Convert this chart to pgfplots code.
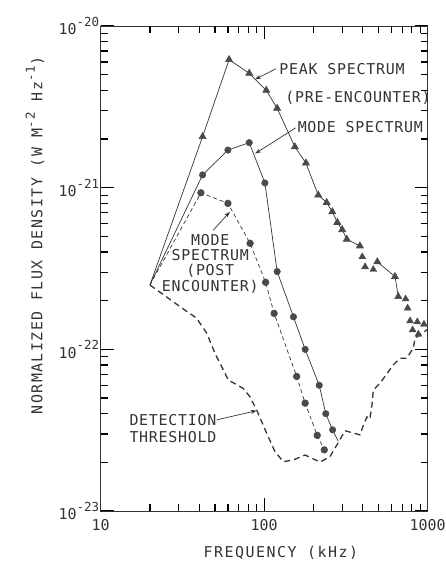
\documentclass[border=0pt]{standalone}
\usepackage{pgfplots}
\pgfplotsset{compat=1.18}
\usepackage{fontspec}
\setmainfont[LetterSpace=5]{DejaVu Sans Mono}
\usetikzlibrary{arrows.meta}

\definecolor{ink}{HTML}{333333}
\definecolor{markfill}{HTML}{4A4A4A}

\newcommand{\lbl}{\fontsize{15}{15}\selectfont}
\newcommand{\pw}[1]{10\raisebox{0.55em}{\fontsize{12.5}{12.5}\selectfont#1}}
\newcommand{\expo}[1]{\raisebox{0.5em}{\fontsize{12.5}{12.5}\selectfont#1}}

\begin{document}
\begin{tikzpicture}[font=\lbl]
\begin{axis}[
  scale only axis, width=327bp, height=485bp,
  xmode=log, ymode=log,
  xmin=10, xmax=1000, ymin=1e-23, ymax=1e-20,
  xtick={10,100,1000}, xticklabels={10,100,1000},
  minor xtick={20,30,40,50,60,70,80,90,200,300,400,500,600,700,800,900},
  ytick={1e-23,1e-22,1e-21,1e-20},
  yticklabels={\pw{-23},\pw{-22},\pw{-21},\pw{-20}},
  minor ytick={2e-23,3e-23,4e-23,5e-23,6e-23,7e-23,8e-23,9e-23,
               2e-22,3e-22,4e-22,5e-22,6e-22,7e-22,8e-22,9e-22,
               2e-21,3e-21,4e-21,5e-21,6e-21,7e-21,8e-21,9e-21},
  xtick pos=both, ytick pos=both,
  tick align=inside,
  major tick length=13bp, minor tick length=7bp,
  axis line style={ink, line width=0.9pt},
  major tick style={draw=black, line width=1.2pt},
  minor tick style={draw=black, line width=1.2pt},
  tick label style={ink, font=\lbl\addfontfeature{LetterSpace=0}},
  yticklabel style={anchor=east, xshift=2bp},
  xticklabel style={yshift=-5bp},
  clip=false,
]

% tick marks along the frame
\tikzset{tk/.style={black, line width=1.2pt}}
\pgfplotsinvokeforeach{20,30,40,50,60,70,80,90,200,300,400,500,600,700,800,900}{
  \draw[tk] (axis cs:#1,1e-23) -- ++(0pt,7bp);
  \draw[tk] (axis cs:#1,1e-20) -- ++(0pt,-7bp);
}
\draw[tk] (axis cs:100,1e-23) -- ++(0pt,13bp);
\draw[tk] (axis cs:100,1e-20) -- ++(0pt,-13bp);
\pgfplotsinvokeforeach{2e-23,3e-23,4e-23,5e-23,6e-23,7e-23,8e-23,9e-23,
  2e-22,3e-22,4e-22,5e-22,6e-22,7e-22,8e-22,9e-22,
  2e-21,3e-21,4e-21,5e-21,6e-21,7e-21,8e-21,9e-21}{
  \draw[tk] (axis cs:10,#1) -- ++(7bp,0pt);
  \draw[tk] (axis cs:1000,#1) -- ++(-7bp,0pt);
}
\pgfplotsinvokeforeach{1e-22,1e-21}{
  \draw[tk] (axis cs:10,#1) -- ++(13bp,0pt);
  \draw[tk] (axis cs:1000,#1) -- ++(-13bp,0pt);
}

% detection threshold
\addplot[ink, line width=1.3pt, dash pattern=on 6pt off 4pt] coordinates {
  (20,2.5e-22) (23.6,2.22e-22) (30.5,1.84e-22) (38.6,1.56e-22) (44.5,1.26e-22)
  (50,9.46e-23) (60.3,6.47e-23) (74.4,5.74e-23) (81.8,5.09e-23) (90,4.21e-23)
  (103.5,3.03e-23) (116.4,2.33e-23) (130.9,2.02e-23) (150.7,2.07e-23)
  (177.8,2.22e-23) (219.5,2.01e-23) (252.5,2.17e-23) (283.7,2.65e-23)
  (311.8,3.14e-23) (385.4,2.96e-23) (407,3.46e-23) (425,3.82e-23) (443,3.71e-23)
  (456,4.53e-23) (465,5.61e-23) (510.6,6.17e-23) (616,8.02e-23) (677,8.81e-23)
  (744,8.81e-23) (817,1.02e-22) (836,1.17e-22) (1000,1.33e-22)
};

% peak spectrum (pre-encounter)
\addplot[ink, line width=0.7pt, mark=triangle*, mark size=4pt,
  mark phase=2, mark repeat=1,
  mark options={fill=markfill, draw=markfill, solid}] coordinates {
  (20,2.5e-22) (42,2.07e-21) (61,6.2e-21) (81,5.1e-21) (103,4.0e-21)
  (120,3.1e-21) (154,1.79e-21) (180,1.42e-21) (214,9.0e-22) (241,8.1e-22)
  (261,7.1e-22) (280,6.1e-22) (300,5.5e-22) (320,4.8e-22) (385,4.36e-22)
};
\addplot[ink, line width=0.7pt, mark=triangle*, mark size=4pt,
  mark options={fill=markfill, draw=markfill, solid}] coordinates {
  (492,3.48e-22) (631,2.82e-22) (661,2.12e-22)
};
\addplot[only marks, mark=triangle*, mark size=4pt,
  mark options={fill=markfill, draw=markfill}] coordinates {
  (398,3.74e-22) (414,3.24e-22) (465,3.12e-22) (733,2.05e-22) (754,1.80e-22)
  (780,1.50e-22) (864,1.48e-22) (949,1.43e-22) (809,1.32e-22) (877,1.24e-22)
};

% mode spectrum
\addplot[ink, line width=0.7pt] coordinates {
  (20,2.5e-22) (42,1.2e-21) (60,1.71e-21) (81,1.9e-21) (101,1.07e-21)
  (120,3.03e-22) (151,1.59e-22) (178,1.0e-22) (217,6.0e-23) (238,4.0e-23)
  (262,3.18e-23) (284,2.69e-23)
};
\addplot[only marks, mark=*, mark size=3.3pt,
  mark options={fill=markfill, draw=markfill}] coordinates {
  (42,1.2e-21) (60,1.71e-21) (81,1.9e-21) (101,1.07e-21)
  (120,3.03e-22) (151,1.59e-22) (178,1.0e-22) (217,6.0e-23) (238,4.0e-23)
  (262,3.18e-23)
};

% mode spectrum (post encounter)
\addplot[ink, line width=0.7pt, dash pattern=on 4pt off 3pt, mark=*, mark size=3.3pt,
  mark phase=2, mark repeat=1,
  mark options={fill=markfill, draw=markfill, solid}] coordinates {
  (20,2.5e-22) (41,9.3e-22) (60,8.0e-22) (82,4.53e-22) (102,2.6e-22)
  (115,1.67e-22) (158,6.8e-23) (178,4.65e-23) (211,2.94e-23) (233,2.39e-23)
};

% annotations
\tikzset{lead/.style={ink, line width=0.7pt, -{Stealth[length=6pt,width=4pt]}}}
\node[anchor=west, inner sep=0pt, ink] at (rel axis cs:0.546,0.911) {PEAK SPECTRUM};
\draw[lead] (rel axis cs:0.536,0.912) -- (rel axis cs:0.472,0.890);
\node[anchor=west, inner sep=0pt, ink] at (rel axis cs:0.564,0.851) {(PRE-ENCOUNTER)};
\node[anchor=west, inner sep=0pt, ink] at (rel axis cs:0.602,0.792) {MODE SPECTRUM};
\draw[lead] (rel axis cs:0.596,0.790) -- (rel axis cs:0.472,0.737);
\node[align=center, inner sep=0pt, ink, font=\fontsize{15}{15.3}\selectfont]
  at (rel axis cs:0.335,0.510) {MODE\\SPECTRUM\\(POST\\ENCOUNTER)};
\draw[lead] (rel axis cs:0.344,0.579) -- (rel axis cs:0.395,0.617);
\node[align=left, anchor=west, inner sep=0pt, ink, font=\fontsize{15}{16.5}\selectfont]
  at (rel axis cs:0.0875,0.170) {DETECTION\\THRESHOLD};
\draw[lead] (rel axis cs:0.355,0.188) -- (rel axis cs:0.477,0.207);

% axis titles
\node[rotate=90, ink, font=\lbl\addfontfeature{LetterSpace=10}] at (rel axis cs:-0.201,0.568)
  {NORMALIZED FLUX DENSITY (W M\expo{-2} Hz\expo{-1})};
\node[ink, font=\lbl\addfontfeature{LetterSpace=10}] at (rel axis cs:0.551,-0.086) {FREQUENCY (kHz)};
\end{axis}
\pgfresetboundingbox
\path[use as bounding box] ([xshift=-100.7bp,yshift=-53bp]current axis.south west)
  rectangle ([xshift=18.3bp,yshift=26bp]current axis.north east);
\end{tikzpicture}
\end{document}
